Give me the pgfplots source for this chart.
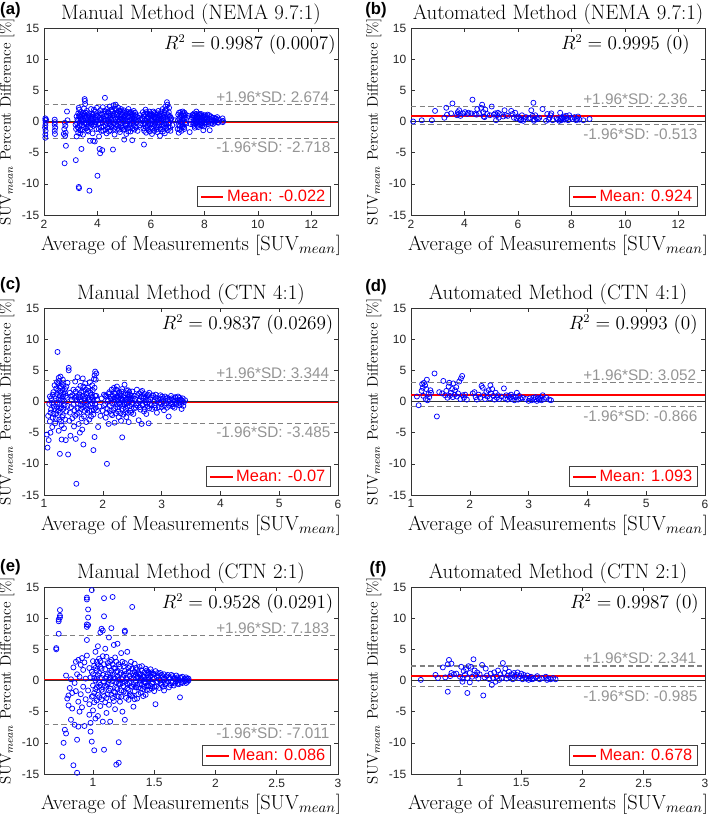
\documentclass[border=0pt]{standalone}
\usepackage{fontspec}
\usepackage{pgfplots}
\usepackage{pgfplotstable}
\pgfplotsset{compat=1.18}
\newfontfamily\arial{Liberation Sans}

\pgfplotstableread{
x y
2.05 0.5
2.05 0.2
2.06 -0.2
2.05 -0.6
2.04 -1.0
2.06 -1.5
2.05 -2.1
2.05 -2.6
2.08 0.3
2.40 0.3
2.41 -0.1
2.40 -0.5
2.42 -1.0
2.40 -1.5
2.41 -2.0
2.78 -0.2
2.80 -0.7
2.76 -1.2
2.81 -1.8
2.79 -2.3
2.82 -3.9
2.77 -6.7
2.86 1.6
2.88 0.2
2.74 -2.0
3.18 -0.5
3.20 -1.2
3.19 -6.2
3.22 -2.4
3.25 0.3
3.26 -0.9
3.28 1.3
3.30 2.2
3.30 -10.5
3.31 -10.7
3.32 1.9
3.33 0.8
3.34 -0.2
3.28 -1.8
3.35 -1.4
3.36 0.5
3.38 1.5
3.40 -4.4
3.42 -0.6
3.44 0.9
3.46 -2.1
3.48 0.1
3.50 2.1
3.52 3.6
3.53 3.3
3.54 2.8
3.52 1.2
3.55 0.6
3.56 -0.3
3.58 -1.1
3.60 1.7
3.62 0.2
3.64 -0.8
3.66 -1.6
3.68 1.0
3.70 -11.1
3.72 -3.1
3.74 0.4
3.76 2.0
3.78 -0.5
3.80 1.3
3.82 -1.9
3.84 -3.1
3.86 0.7
3.88 -0.1
3.90 -3.2
3.92 1.6
3.94 0.3
3.96 -1.2
3.98 2.2
4.00 -8.7
4.02 0.9
4.04 -0.4
4.06 -2.4
4.08 -4.4
4.10 -5.1
4.12 1.2
4.14 -0.9
4.16 0.5
4.18 -4.6
4.20 2.3
4.22 -1.5
4.24 0.1
4.26 1.7
4.28 3.8
4.30 -0.6
4.32 0.8
4.34 -1.9
4.36 2.0
4.38 0.3
4.40 -1.0
4.42 1.4
4.44 -0.2
4.46 2.4
4.48 0.6
4.50 -1.4
4.52 1.9
4.54 -0.7
4.56 0.9
4.58 -4.5
4.60 2.6
4.62 0.2
4.64 -2.1
4.66 1.3
4.68 2.7
4.70 -0.5
4.72 1.1
4.74 -1.2
4.76 0.4
4.78 2.2
4.80 -0.1
4.82 1.6
4.84 -1.7
4.86 0.7
4.88 2.0
4.90 -0.8
4.92 1.0
4.94 0.2
4.96 -1.3
4.98 1.8
5.00 -2.9
5.02 0.5
5.04 1.4
5.06 -0.4
5.08 -2.0
5.10 1.2
5.12 0.1
5.14 -1.1
5.16 2.0
5.18 0.7
5.20 -0.6
5.22 1.5
5.24 -1.6
5.26 0.3
5.28 1.1
5.30 -3.0
5.32 0.9
5.34 -0.2
5.36 1.7
5.38 -1.3
5.40 0.4
5.42 -0.8
5.44 1.0
5.46 -0.1
5.50 -1.5
5.55 0.6
5.60 -0.6
5.65 0.2
5.70 1.5
5.72 -1.1
5.74 -3.7
5.76 0.8
5.78 -0.3
5.80 1.9
5.82 -1.8
5.84 0.5
5.86 -0.7
5.88 1.2
5.90 -1.3
5.92 0.0
5.94 1.6
5.96 -0.5
5.98 0.9
6.00 -1.0
6.02 0.3
6.04 -2.0
6.06 1.1
6.08 -0.4
6.10 0.7
6.12 -1.5
6.14 1.4
6.16 -0.2
6.18 0.5
6.20 -0.9
6.22 1.0
6.24 -1.7
6.26 0.2
6.28 1.7
6.30 -0.6
6.32 0.8
6.34 -2.3
6.36 1.2
6.38 -0.1
6.40 0.4
6.42 -1.2
6.44 2.0
6.46 0.6
6.48 -0.8
6.50 1.5
6.52 -1.9
6.54 2.4
6.56 0.1
6.58 -0.5
6.60 3.1
6.62 2.7
6.63 -1.4
6.64 1.0
6.66 -0.3
6.68 2.2
6.70 0.7
6.72 -1.0
6.74 0.3
6.80 -0.6
6.90 0.2
7.00 -1.2
7.02 1.1
7.04 -1.8
7.06 0.4
7.08 -0.7
7.10 1.5
7.12 0.0
7.14 -1.5
7.16 0.9
7.18 -0.4
7.20 1.3
7.22 0.5
7.24 -0.9
7.26 1.4
7.28 -0.2
7.35 0.6
7.45 -1.7
7.50 0.3
7.55 1.0
7.58 -0.5
7.60 0.2
7.62 1.3
7.64 -1.0
7.66 0.7
7.68 -0.2
7.70 1.6
7.72 0.4
7.74 -0.7
7.76 0.9
7.78 0.1
7.80 1.1
7.82 -0.4
7.84 0.6
7.86 -0.1
7.88 1.2
7.90 0.3
7.92 -0.6
7.94 0.8
7.96 -1.4
7.98 0.5
8.00 -0.2
8.02 1.0
8.04 0.2
8.06 -0.5
8.10 0.7
8.14 0.0
8.18 1.0
8.20 -1.4
8.22 0.4
8.26 -0.3
8.30 0.6
8.34 0.1
8.38 -0.2
8.42 0.5
8.46 0.2
8.50 -0.1
8.55 0.3
8.68 0.5
8.70 0.1
8.69 -0.1
}\dataA

\pgfplotstableread{
x y
3.22 0.8
3.24 -0.3
3.27 0.1
3.29 -1.1
3.31 1.0
3.33 -0.6
3.36 -1.9
3.38 0.2
3.41 1.1
3.43 -1.3
3.45 0.4
3.47 1.3
3.49 -0.9
3.51 -0.2
3.53 0.9
3.57 1.4
3.59 -0.4
3.61 0.8
3.63 -1.4
3.65 0.5
3.67 -0.1
3.69 1.3
3.71 0.0
3.73 -1.0
3.77 0.8
3.79 -0.2
3.81 0.4
3.83 1.1
3.85 -0.7
3.87 1.9
3.91 -0.5
3.93 0.6
3.95 -0.1
3.97 1.0
4.01 0.2
4.03 1.5
4.05 -1.2
4.07 0.6
4.09 -0.3
4.11 1.8
4.13 0.3
4.15 -1.5
4.17 1.1
4.19 -0.2
4.21 0.7
4.23 -0.8
4.25 1.2
4.27 0.4
4.29 -1.3
4.31 1.6
4.33 -0.2
4.35 0.9
4.37 -0.9
4.39 1.5
4.41 0.0
4.43 -1.6
4.45 0.9
4.47 -0.5
4.49 1.2
4.51 0.3
4.53 -0.9
4.55 1.6
4.57 0.5
4.59 -0.3
4.61 1.0
4.63 -1.2
4.65 2.1
4.67 0.4
4.69 -0.9
4.71 1.8
4.73 0.0
4.75 1.4
4.77 -0.7
4.79 0.9
4.81 -1.3
4.83 0.3
4.85 1.7
4.87 -0.4
4.89 1.1
4.91 0.5
4.93 -1.0
4.95 1.5
4.97 0.0
4.99 0.8
5.01 -1.2
5.03 1.0
5.05 0.3
5.07 -0.7
5.09 1.6
5.11 -0.3
5.13 0.7
5.15 -1.6
5.17 1.3
5.19 0.2
5.21 -0.9
5.23 0.8
5.25 -0.3
5.27 1.5
5.29 0.5
5.31 -1.1
5.33 1.2
5.35 0.0
5.37 -0.6
5.39 0.9
5.41 1.4
5.43 0.2
5.45 -1.0
5.48 0.7
5.52 0.1
5.58 1.0
5.63 -0.3
5.68 0.5
5.71 -0.5
5.73 1.1
5.75 -1.5
5.77 0.2
5.79 1.2
5.81 -0.9
5.83 1.5
5.85 0.1
5.87 -1.1
5.89 0.6
5.91 -0.2
5.93 1.1
5.95 -1.6
5.97 0.4
5.99 1.3
6.01 -0.4
6.03 0.9
6.05 -1.1
6.07 0.1
6.09 1.6
6.11 -0.8
6.13 0.5
6.15 -0.5
6.17 1.2
6.19 0.0
6.21 -1.3
6.23 0.6
6.25 1.3
6.27 -0.9
6.29 0.3
6.31 -0.2
6.33 1.0
6.35 -1.2
6.37 0.5
6.39 1.6
6.41 -0.6
6.43 0.9
6.45 -1.6
6.47 0.2
6.49 1.1
6.51 -0.3
6.53 0.6
6.55 1.8
6.57 -1.1
6.59 2.0
6.61 1.2
6.63 0.4
6.65 -0.9
6.67 1.5
6.69 -0.2
6.71 0.9
6.73 -1.5
6.76 0.5
7.01 0.2
7.03 -0.6
7.05 1.4
7.07 -1.3
7.09 0.7
7.11 -0.2
7.13 1.0
7.15 -0.9
7.17 0.3
7.19 1.6
7.21 -0.7
7.23 0.9
7.25 -1.2
7.27 0.6
7.29 1.1
7.32 -0.3
7.40 0.9
7.48 -0.4
7.53 0.7
7.57 1.1
7.59 -0.2
7.61 0.9
7.63 -0.7
7.65 1.0
7.67 0.1
7.69 -0.4
7.71 1.2
7.73 -0.1
7.75 0.5
7.77 -0.9
7.79 0.7
7.81 0.2
7.83 1.2
7.85 -0.6
7.87 0.4
7.89 0.9
7.91 -0.3
7.93 0.6
7.95 0.0
7.97 1.0
7.99 -0.8
8.01 0.3
8.03 0.7
8.05 -0.2
8.08 0.4
8.12 1.1
8.16 -0.4
8.24 0.8
8.28 0.2
8.32 -0.4
8.36 0.6
8.40 0.0
8.44 0.4
8.48 0.7
8.52 -0.2
}\dataAA

\pgfplotstableread{
x y
2.08 0.0
2.40 0.2
2.78 0.2
2.90 1.7
3.25 0.6
3.32 2.2
3.35 1.1
3.50 1.3
3.55 2.9
3.72 1.0
3.75 1.5
3.78 1.2
3.80 1.8
3.85 0.9
3.95 1.3
4.02 1.5
4.10 1.2
4.15 1.4
4.25 1.3
4.30 3.5
4.38 1.2
4.45 1.1
4.48 2.0
4.55 1.3
4.62 2.2
4.66 2.7
4.70 1.5
4.72 0.8
4.75 0.7
4.78 1.9
4.85 1.2
4.95 1.0
5.02 2.4
5.10 1.1
5.15 1.3
5.18 0.2
5.22 1.0
5.25 1.4
5.28 0.6
5.32 1.2
5.45 0.8
5.50 1.8
5.55 1.0
5.62 0.9
5.75 1.7
5.80 1.2
5.85 0.6
5.90 1.4
5.95 0.5
6.00 0.8
6.05 0.6
6.10 0.2
6.12 0.3
6.15 1.0
6.20 0.1
6.22 0.4
6.30 0.7
6.40 0.5
6.45 0.6
6.50 1.8
6.55 0.9
6.58 3.0
6.60 0.1
6.62 0.3
6.65 1.0
6.70 0.5
6.75 0.4
6.80 0.6
6.92 2.0
7.05 0.1
7.10 1.2
7.15 0.3
7.18 0.6
7.22 1.0
7.25 1.3
7.30 0.2
7.45 0.5
7.50 0.3
7.55 0.1
7.58 1.4
7.60 0.5
7.62 0.2
7.65 0.6
7.70 0.4
7.72 0.8
7.75 0.3
7.80 0.9
7.82 0.5
7.88 0.2
7.92 1.0
7.98 0.6
8.05 0.4
8.12 0.7
8.18 0.2
8.22 0.4
8.25 0.8
8.30 0.3
8.45 0.2
8.68 0.4
}\dataB

\pgfplotstableread{
x y
1.05 -5.3
1.06 -7.4
1.07 -2.3
1.08 -6.2
1.09 -0.4
1.10 0.8
1.10 -3.2
1.11 -5.0
1.12 -1.3
1.13 0.2
1.14 -4.1
1.15 -2.6
1.16 1.5
1.17 -0.8
1.18 2.6
1.19 -3.5
1.20 0.5
1.21 -1.9
1.22 3.1
1.23 7.95
1.23 -0.2
1.24 1.8
1.25 -4.7
1.25 3.8
1.26 -2.9
1.27 -8.4
1.27 0.9
1.28 4.0
1.28 -1.1
1.29 2.4
1.30 -6.1
1.30 -3.8
1.31 0.1
1.32 3.5
1.32 -2.2
1.33 1.2
1.34 -4.3
1.35 -0.6
1.36 2.0
1.37 -6.2
1.38 -1.6
1.39 0.6
1.40 3.0
1.41 -8.5
1.42 5.4
1.42 5.0
1.43 -3.1
1.44 1.4
1.45 -5.5
1.46 -0.9
1.47 0.3
1.48 -2.7
1.50 1.9
1.51 -4.0
1.52 -1.4
1.53 3.2
1.54 -6.0
1.55 -13.2
1.55 0.8
1.56 -2.0
1.57 3.9
1.58 -0.3
1.59 -3.6
1.60 1.1
1.61 -5.0
1.62 2.5
1.63 -1.2
1.64 0.0
1.65 -4.5
1.66 3.7
1.67 -6.9
1.67 1.6
1.68 -2.4
1.69 0.4
1.70 2.9
1.71 -0.7
1.72 -3.3
1.73 1.3
1.74 -1.8
1.75 2.2
1.76 0.2
1.77 -2.9
1.78 3.1
1.79 -0.5
1.80 1.0
1.81 -1.5
1.82 2.6
1.83 0.6
1.84 -7.8
1.84 -2.1
1.85 3.6
1.86 -5.7
1.86 4.2
1.87 4.8
1.87 0.9
1.88 -1.0
1.89 4.5
1.90 0.3
1.92 -4.1
1.94 -0.8
1.96 -2.3
1.98 0.5
2.00 -1.5
2.02 1.1
2.04 -0.4
2.05 -2.6
2.06 0.8
2.07 -10.0
2.08 -1.2
2.09 0.1
2.10 -3.6
2.11 1.5
2.12 -0.7
2.13 0.5
2.14 -2.0
2.15 1.9
2.16 -0.3
2.17 0.9
2.18 -1.4
2.19 2.2
2.20 -3.4
2.20 -0.1
2.21 1.2
2.22 -1.9
2.23 0.6
2.24 2.4
2.25 -0.9
2.26 0.3
2.27 -2.5
2.28 1.5
2.29 -0.5
2.30 1.0
2.31 -3.1
2.32 0.2
2.33 -5.75
2.33 2.0
2.34 -1.2
2.35 0.7
2.36 -0.2
2.37 2.7
2.38 -1.7
2.39 1.3
2.40 -2.5
2.41 0.4
2.42 -0.8
2.43 1.8
2.44 -3.3
2.45 0.0
2.46 1.1
2.47 -1.5
2.48 0.6
2.49 -0.4
2.50 1.6
2.52 -2.0
2.54 0.9
2.56 -1.0
2.58 1.9
2.60 -0.3
2.61 -3.0
2.62 1.3
2.63 0.2
2.64 -1.3
2.65 0.8
2.66 -3.6
2.67 1.7
2.68 -0.6
2.69 0.5
2.70 -1.6
2.71 1.2
2.72 -0.1
2.73 0.7
2.74 -2.0
2.75 1.0
2.76 -0.8
2.77 0.3
2.78 -3.5
2.79 1.4
2.80 -0.4
2.82 0.6
2.84 -1.2
2.86 0.9
2.88 -0.6
2.90 1.1
2.92 -1.8
2.94 0.4
2.96 -0.2
2.98 1.0
3.00 -0.9
3.02 0.5
3.04 -1.4
3.06 0.8
3.08 -0.3
3.10 0.6
3.12 -2.4
3.13 -0.7
3.14 0.3
3.16 0.9
3.18 -0.5
3.20 0.4
3.22 -1.0
3.24 0.6
3.26 -0.2
3.28 0.8
3.30 -0.6
3.32 0.3
3.34 -1.2
3.36 0.5
3.38 -0.1
3.40 0.2
}\dataC

\pgfplotstableread{
x y
1.11 -1.8
1.12 0.5
1.14 -0.3
1.15 1.1
1.16 -2.0
1.18 -1.2
1.19 0.9
1.20 -2.8
1.21 2.1
1.22 -0.9
1.22 1.2
1.24 -1.5
1.24 2.9
1.25 0.3
1.26 -0.5
1.26 3.3
1.27 2.2
1.27 -1.8
1.28 1.4
1.29 -3.2
1.29 0.4
1.30 2.8
1.30 -0.9
1.31 1.8
1.31 -2.5
1.32 0.8
1.33 -1.2
1.33 2.6
1.34 0.1
1.35 1.5
1.36 -2.9
1.37 0.9
1.38 2.4
1.40 -0.7
1.44 -1.8
1.46 0.8
1.48 1.0
1.50 -0.5
1.52 0.6
1.53 -2.3
1.54 1.6
1.56 0.3
1.57 -1.1
1.58 2.0
1.59 0.7
1.60 -1.8
1.61 0.2
1.62 -0.6
1.63 1.5
1.64 -2.7
1.65 0.9
1.66 -0.9
1.67 2.4
1.68 0.5
1.69 -1.5
1.70 0.8
1.71 1.9
1.72 -0.2
1.73 -1.2
1.74 0.6
1.75 -0.6
1.76 1.7
1.77 -1.5
1.78 0.4
1.79 1.4
1.80 -2.4
1.81 0.7
1.82 -0.3
1.83 1.8
1.84 0.1
1.85 -1.3
1.86 2.2
1.87 -0.4
1.88 3.5
1.89 0.9
1.90 -1.4
2.02 -0.6
2.04 0.9
2.06 -1.8
2.08 0.3
2.10 1.2
2.12 -1.5
2.14 0.8
2.16 -2.2
2.18 0.4
2.20 1.4
2.21 -1.1
2.22 0.2
2.23 1.9
2.24 -0.5
2.25 0.9
2.26 -1.6
2.27 0.6
2.28 -0.3
2.29 1.2
2.30 -1.9
2.31 0.5
2.32 1.6
2.33 -0.7
2.34 0.3
2.35 -2.1
2.36 1.0
2.37 -0.5
2.38 0.6
2.39 -1.2
2.40 1.8
2.41 -0.3
2.42 1.1
2.43 -1.8
2.44 0.5
2.45 1.5
2.46 -0.7
2.47 0.3
2.48 -1.8
2.49 0.9
2.50 -0.2
2.51 0.5
2.53 -1.1
2.55 0.4
2.57 -0.6
2.59 1.0
2.61 0.1
2.63 -0.9
2.65 1.5
2.67 -0.5
2.69 0.8
2.71 -1.2
2.73 0.2
2.75 -0.3
2.77 1.1
2.79 -1.1
2.81 0.3
2.83 -0.6
2.85 1.0
2.87 0.0
2.89 -1.0
2.91 0.6
2.93 0.1
2.95 -0.9
2.97 0.5
2.99 -0.4
3.01 0.8
3.03 0.0
3.05 -0.6
3.07 0.4
3.09 -1.0
3.11 0.2
3.15 -0.3
3.17 0.5
3.19 -0.8
3.21 0.1
3.23 0.7
3.25 -0.5
3.27 0.2
3.29 -0.2
3.31 0.6
3.33 -0.4
3.35 0.1
3.37 -0.7
}\dataCC

\pgfplotstableread{
x y
1.10 0.8
1.13 -0.6
1.18 1.7
1.19 2.8
1.20 2.2
1.21 0.9
1.22 3.0
1.24 2.6
1.25 0.4
1.26 2.0
1.27 3.5
1.28 0.2
1.30 1.2
1.31 0.7
1.33 1.8
1.34 1.4
1.40 4.5
1.44 -2.4
1.48 1.5
1.53 1.3
1.55 3.3
1.58 1.0
1.60 1.7
1.62 0.6
1.64 2.4
1.65 3.0
1.66 0.9
1.68 1.4
1.70 2.0
1.71 0.7
1.72 2.9
1.74 1.1
1.75 1.8
1.77 2.3
1.78 0.8
1.80 1.3
1.82 3.2
1.84 0.4
1.85 3.7
1.87 4.1
1.88 1.0
1.90 0.6
1.92 1.1
1.95 0.3
2.05 1.3
2.08 1.5
2.10 0.7
2.12 0.3
2.15 1.1
2.18 0.6
2.20 2.5
2.22 2.2
2.24 1.0
2.26 0.4
2.28 1.5
2.30 0.8
2.32 1.8
2.34 0.5
2.35 2.6
2.36 1.3
2.38 2.0
2.40 0.9
2.42 0.3
2.44 1.4
2.46 0.6
2.48 1.0
2.50 0.4
2.54 0.8
2.58 2.1
2.60 0.5
2.62 1.0
2.64 0.3
2.66 0.9
2.68 0.6
2.70 1.1
2.72 0.4
2.74 0.8
2.76 0.2
2.78 0.7
2.80 1.4
2.82 0.3
2.84 0.9
2.86 0.5
2.90 0.6
2.95 0.4
3.00 0.1
3.02 0.5
3.05 0.2
3.08 0.6
3.10 0.3
3.12 0.7
3.14 0.1
3.16 0.5
3.18 0.3
3.20 0.6
3.22 0.2
3.24 1.0
3.26 0.4
3.30 0.6
3.35 0.3
3.38 0.2
}\dataD

\pgfplotstableread{
x y
0.70 5.2
0.70 5.0
0.72 7.5
0.72 9.5
0.72 9.8
0.73 10.1
0.73 10.4
0.73 11.3
0.75 -12.2
0.76 -10.0
0.77 -7.9
0.78 -8.5
0.78 0.8
0.79 -2.9
0.80 -4.0
0.80 -2.4
0.81 -1.2
0.82 -6.3
0.82 0.2
0.83 -4.5
0.83 -2.0
0.84 -13.6
0.84 2.1
0.85 -7.1
0.85 -0.4
0.86 3.0
0.86 -1.7
0.87 -14.8
0.87 -9.5
0.87 1.0
0.88 -7.4
0.88 3.3
0.88 -3.4
0.89 -5.0
0.89 0.6
0.90 2.5
0.90 -2.2
0.91 -4.3
0.91 3.6
0.92 -1.0
0.92 1.7
0.93 -7.3
0.93 2.9
0.94 -3.0
0.94 0.3
0.95 13.0
0.95 13.3
0.95 8.6
0.95 9.0
0.95 6.5
0.95 4.0
0.96 11.4
0.96 10.1
0.96 -1.6
0.96 8.9
0.97 -5.5
0.97 2.0
0.97 -3.8
0.98 -8.2
0.98 0.5
0.98 -6.8
0.99 14.5
0.99 -9.8
0.99 1.4
0.99 -2.6
1.00 3.1
1.00 -4.8
1.00 -0.8
1.01 -11.2
1.01 2.4
1.01 -2.0
1.02 0.0
1.02 -6.1
1.02 4.6
1.03 -3.2
1.03 1.6
1.03 -1.1
1.04 5.5
1.04 -5.7
1.04 0.8
1.05 -2.7
1.05 3.5
1.05 -0.4
1.06 7.7
1.06 -4.1
1.06 2.2
1.07 8.3
1.07 -1.5
1.07 0.4
1.08 8.0
1.08 -6.6
1.08 3.9
1.09 13.2
1.09 10.3
1.09 -11.1
1.09 -0.2
1.10 1.8
1.10 -3.5
1.10 5.1
1.11 -1.0
1.11 0.6
1.11 -5.2
1.12 2.8
1.12 -2.2
1.13 6.9
1.13 0.1
1.13 -3.9
1.14 -6.6
1.14 1.2
1.14 -1.3
1.15 8.4
1.15 3.3
1.15 -0.6
1.16 13.4
1.16 -2.8
1.16 0.9
1.17 5.7
1.17 -1.8
1.17 2.0
1.18 -4.6
1.18 0.3
1.18 3.7
1.19 -13.5
1.19 -1.2
1.19 1.4
1.20 5.9
1.20 -2.5
1.20 0.6
1.21 -13.2
1.21 -9.9
1.21 2.6
1.21 -0.5
1.22 -3.4
1.22 1.0
1.23 4.4
1.23 -1.6
1.24 0.2
1.24 -5.0
1.25 2.3
1.25 -0.9
1.26 8.0
1.26 7.8
1.26 -6.3
1.26 1.5
1.27 -2.0
1.27 0.4
1.28 4.6
1.28 -1.2
1.29 2.0
1.29 -3.1
1.30 0.7
1.30 -0.4
1.31 3.0
1.31 -2.4
1.32 11.8
1.32 1.2
1.32 -1.0
1.33 -4.2
1.33 0.3
1.34 2.7
1.34 -1.7
1.35 0.9
1.35 -0.2
1.36 1.8
1.36 -2.9
1.37 0.5
1.37 -1.1
1.38 2.2
1.38 -0.6
1.39 1.0
1.39 -2.0
1.40 0.2
1.40 1.6
1.41 -1.4
1.42 0.6
1.42 -0.3
1.43 1.9
1.43 -2.3
1.44 0.9
1.44 -0.8
1.45 1.4
1.45 0.1
1.46 -1.5
1.47 0.7
1.47 1.8
1.48 -0.5
1.49 1.1
1.50 -1.0
1.50 0.4
1.51 -3.8
1.51 1.5
1.52 -0.3
1.53 0.8
1.54 -1.2
1.55 1.2
1.55 0.0
1.56 -0.7
1.57 0.5
1.58 1.0
1.58 -1.6
1.59 0.2
1.60 -0.4
1.61 0.9
1.62 -1.1
1.63 0.4
1.64 -0.2
1.65 0.7
1.66 -0.8
1.67 0.3
1.68 0.8
1.69 -0.5
1.70 0.1
1.71 -2.7
1.71 0.5
1.72 -0.3
1.73 0.6
1.74 -0.1
1.75 0.3
1.76 -0.4
1.77 0.2
1.78 0.0
}\dataE

\pgfplotstableread{
x y
1.00 1.0
1.00 -2.5
1.01 0.4
1.01 -3.5
1.02 2.0
1.02 -1.4
1.03 3.0
1.03 0.3
1.04 -2.3
1.04 2.6
1.05 -1.0
1.05 1.2
1.06 -0.7
1.06 3.1
1.07 -3.0
1.07 1.9
1.08 -1.8
1.08 0.9
1.09 2.6
1.09 -2.5
1.10 -0.8
1.10 0.3
1.11 3.8
1.11 -2.8
1.12 -0.6
1.12 1.0
1.13 2.3
1.13 -1.6
1.14 0.5
1.14 3.0
1.15 -2.3
1.15 1.6
1.16 -0.1
1.16 2.6
1.17 -3.3
1.17 0.5
1.18 1.9
1.18 -1.9
1.19 -0.3
1.19 3.0
1.20 1.5
1.20 -1.4
1.21 -2.6
1.21 0.1
1.22 2.2
1.22 -0.6
1.23 1.2
1.23 -2.6
1.24 3.0
1.24 -0.4
1.25 0.9
1.25 -1.8
1.26 -0.2
1.26 2.8
1.27 1.1
1.27 -2.8
1.28 0.2
1.28 -0.6
1.29 1.4
1.29 -1.5
1.30 2.3
1.30 -2.2
1.31 0.3
1.31 -0.9
1.32 1.9
1.32 -2.5
1.33 0.8
1.33 -0.6
1.34 1.4
1.34 -3.0
1.35 -1.1
1.35 2.0
1.36 0.5
1.36 -0.7
1.37 1.3
1.37 -2.2
1.38 0.0
1.38 1.0
1.39 -1.3
1.39 0.4
1.40 -0.7
1.40 2.3
1.41 0.7
1.41 -2.5
1.42 1.3
1.42 -1.0
1.43 0.2
1.43 -0.4
1.44 1.6
1.44 -1.5
1.45 0.5
1.45 -0.9
1.46 1.1
1.46 0.2
1.47 -0.9
1.48 1.3
1.48 -1.3
1.49 0.2
1.49 -0.3
1.50 1.0
1.50 -1.7
1.52 0.6
1.52 -0.9
1.53 1.2
1.54 0.2
1.55 -0.5
1.56 0.9
1.57 -1.0
1.58 0.3
1.59 -0.6
1.60 0.7
1.61 -0.2
1.62 0.5
1.63 -0.7
1.64 0.9
1.65 -0.3
1.66 0.4
1.67 -0.5
1.68 0.1
1.69 0.5
1.70 -0.6
1.72 0.4
1.73 -0.4
1.75 -0.1
1.76 0.5
1.77 -0.2
1.78 0.3
}\dataEE

\pgfplotstableread{
x y
0.68 0.1
0.80 0.9
0.82 0.4
0.86 2.1
0.88 0.5
0.90 -1.8
0.90 2.6
0.91 3.3
0.92 0.7
0.93 2.7
0.93 1.2
0.95 1.0
0.97 1.1
1.00 0.6
1.01 2.2
1.02 -0.2
1.02 0.3
1.03 1.5
1.04 0.9
1.05 1.8
1.06 -2.0
1.06 0.4
1.07 2.3
1.08 1.2
1.08 -0.3
1.09 2.2
1.10 0.6
1.11 3.4
1.12 1.6
1.13 0.8
1.14 1.3
1.15 0.3
1.16 1.0
1.18 2.5
1.19 -2.4
1.20 0.5
1.21 1.9
1.22 0.8
1.24 0.2
1.25 1.1
1.26 -0.7
1.27 0.4
1.28 1.3
1.29 -0.2
1.30 0.6
1.31 1.6
1.32 0.1
1.33 1.0
1.34 0.4
1.35 2.8
1.36 1.2
1.37 1.9
1.38 0.3
1.39 0.8
1.40 1.4
1.41 0.5
1.42 1.0
1.43 0.2
1.44 1.2
1.45 0.6
1.46 0.9
1.47 1.3
1.48 0.4
1.49 0.7
1.50 1.1
1.51 0.2
1.52 0.9
1.53 0.5
1.54 0.3
1.55 0.8
1.56 0.1
1.57 0.4
1.58 0.6
1.59 0.2
1.60 0.3
1.62 0.5
1.63 0.7
1.65 0.2
1.67 0.4
1.70 0.6
1.71 0.1
1.72 0.3
1.74 0.2
1.76 0.4
1.78 0.2
}\dataF

\tikzset{
  sdt/.style={font=\arial\fontsize{11.5}{13}\selectfont, text=black!42, inner sep=0pt},
  rsq/.style={font=\fontsize{13.5}{16}\selectfont, anchor=east, inner sep=0pt},
  plab/.style={font=\arial\bfseries\fontsize{12.5}{14}\selectfont},
}

\pgfplotsset{
  ba/.style={
    scale only axis, width=220.5pt, height=140.25pt,
    ymin=-15, ymax=15, ytick={-15,-10,-5,0,5,10,15},
    tick align=inside, major tick length=3pt,
    axis line style={black!80, line width=0.5pt},
    tick style={black!80, line width=0.4pt},
    tick label style={font=\arial\fontsize{9}{10}\selectfont, text=black!85},
    /pgf/number format/assume math mode=true,
    xlabel={Average of Measurements [SUV$_{mean}$]},
    ylabel={SUV$_{mean}$ Percent Difference [\%]},
    xlabel style={font=\fontsize{15.3}{18}\selectfont, at={(axis description cs:0.5,-0.165)}, anchor=center},
    ylabel style={font=\fontsize{11.3}{13}\selectfont, at={(axis description cs:-0.126,0.5)}, anchor=center},
    title style={font=\fontsize{15.6}{18}\selectfont, at={(axis description cs:0.5,1.075)}, anchor=center, yshift=-6pt},
    legend style={at={(axis description cs:0.976,0.043)}, anchor=south east,
      draw=black!75, line width=0.5pt, fill=white,
      font=\arial\fontsize{12.3}{14}\selectfont, text=red,
      inner xsep=2pt, inner ysep=0.5pt},
    legend cell align=left,
  },
  pts/.style={only marks, mark=o, mark size=1.9pt, blue, mark options={line width=0.55pt}, forget plot},
  sdl/.style={black!50, dash pattern=on 4pt off 2.5pt, line width=0.9pt, forget plot},
  zl/.style={black!80, line width=0.4pt, forget plot},
  ml/.style={red, line width=1.5pt, legend image code/.code={\draw[red, line width=1.5pt] (0pt,0pt) -- (17pt,0pt);}},
}

\begin{document}
\begin{tikzpicture}
\useasboundingbox (0,0) rectangle (531.75pt,610.5pt);

% (a)
\begin{axis}[ba, at={(33pt,449.25pt)}, anchor=south west,
  xmin=2, xmax=13, xtick={2,4,6,8,10,12},
  title={Manual Method (NEMA 9.7:1)}]
\addplot[pts] table {\dataA};
\addplot[pts] table {\dataAA};
\addplot[ml] coordinates {(2,-0.022) (13,-0.022)};
\addlegendentry{Mean: -0.022\hspace{12pt}}
\addplot[zl] coordinates {(2,0) (13,0)};
\addplot[sdl] coordinates {(2,2.674) (13,2.674)};
\addplot[sdl] coordinates {(2,-2.718) (13,-2.718)};
\node[sdt, anchor=south west, yshift=1.5pt] at ({rel axis cs:0.585,0}|-{axis cs:2,2.674}) {+1.96*SD: 2.674};
\node[sdt, anchor=north west, yshift=-2.6pt] at ({rel axis cs:0.585,0}|-{axis cs:2,-2.718}) {-1.96*SD: -2.718};
\node[rsq] at (rel axis cs:0.993,0.91) {$R^2 = 0.9987\ (0.0007)$};
\end{axis}

% (b)
\begin{axis}[ba, at={(308.25pt,449.25pt)}, anchor=south west,
  xmin=2, xmax=13, xtick={2,4,6,8,10,12},
  title={Automated Method (NEMA 9.7:1)}]
\addplot[pts] table {\dataB};
\addplot[ml] coordinates {(2,0.924) (13,0.924)};
\addlegendentry{Mean: 0.924\hspace{12pt}}
\addplot[zl] coordinates {(2,0) (13,0)};
\addplot[sdl] coordinates {(2,2.36) (13,2.36)};
\addplot[sdl] coordinates {(2,-0.513) (13,-0.513)};
\node[sdt, anchor=south west, yshift=1.5pt] at ({rel axis cs:0.585,0}|-{axis cs:2,2.36}) {+1.96*SD: 2.36};
\node[sdt, anchor=north west, yshift=-2.6pt] at ({rel axis cs:0.585,0}|-{axis cs:2,-0.513}) {-1.96*SD: -0.513};
\node[rsq] at (rel axis cs:0.949,0.91) {$R^2 = 0.9995\ (0)$};
\end{axis}

% (c)
\begin{axis}[ba, at={(33pt,239.25pt)}, anchor=south west,
  xmin=1, xmax=6, xtick={1,2,3,4,5,6},
  title={Manual Method (CTN 4:1)}]
\addplot[pts] table {\dataC};
\addplot[pts] table {\dataCC};
\addplot[ml] coordinates {(1,-0.07) (6,-0.07)};
\addlegendentry{Mean: -0.07\hspace{12pt}}
\addplot[zl] coordinates {(1,0) (6,0)};
\addplot[sdl] coordinates {(1,3.344) (6,3.344)};
\addplot[sdl] coordinates {(1,-3.485) (6,-3.485)};
\node[sdt, anchor=south west, yshift=1.5pt] at ({rel axis cs:0.585,0}|-{axis cs:1,3.344}) {+1.96*SD: 3.344};
\node[sdt, anchor=north west, yshift=-2.6pt] at ({rel axis cs:0.585,0}|-{axis cs:1,-3.485}) {-1.96*SD: -3.485};
\node[rsq] at (rel axis cs:0.985,0.91) {$R^2 = 0.9837\ (0.0269)$};
\end{axis}

% (d)
\begin{axis}[ba, at={(308.25pt,239.25pt)}, anchor=south west,
  xmin=1, xmax=6, xtick={1,2,3,4,5,6},
  title={Automated Method (CTN 4:1)}]
\addplot[pts] table {\dataD};
\addplot[ml] coordinates {(1,1.093) (6,1.093)};
\addlegendentry{Mean: 1.093\hspace{12pt}}
\addplot[zl] coordinates {(1,0) (6,0)};
\addplot[sdl] coordinates {(1,3.052) (6,3.052)};
\addplot[sdl] coordinates {(1,-0.866) (6,-0.866)};
\node[sdt, anchor=south west, yshift=1.5pt] at ({rel axis cs:0.585,0}|-{axis cs:1,3.052}) {+1.96*SD: 3.052};
\node[sdt, anchor=north west, yshift=-2.6pt] at ({rel axis cs:0.585,0}|-{axis cs:1,-0.866}) {-1.96*SD: -0.866};
\node[rsq] at (rel axis cs:0.976,0.91) {$R^2 = 0.9993\ (0)$};
\end{axis}

% (e)
\begin{axis}[ba, at={(33pt,30pt)}, anchor=south west,
  xmin=0.6, xmax=3, xtick={1,1.5,2,2.5,3},
  title={Manual Method (CTN 2:1)}]
\addplot[pts] table {\dataE};
\addplot[pts] table {\dataEE};
\addplot[ml] coordinates {(0.6,0.086) (3,0.086)};
\addlegendentry{Mean: 0.086\hspace{12pt}}
\addplot[zl] coordinates {(0.6,0) (3,0)};
\addplot[sdl] coordinates {(0.6,7.183) (3,7.183)};
\addplot[sdl] coordinates {(0.6,-7.011) (3,-7.011)};
\node[sdt, anchor=south west, yshift=1.5pt] at ({rel axis cs:0.585,0}|-{axis cs:1,7.183}) {+1.96*SD: 7.183};
\node[sdt, anchor=north west, yshift=-2.6pt] at ({rel axis cs:0.585,0}|-{axis cs:1,-7.011}) {-1.96*SD: -7.011};
\node[rsq] at (rel axis cs:0.985,0.91) {$R^2 = 0.9528\ (0.0291)$};
\end{axis}

% (f)
\begin{axis}[ba, at={(308.25pt,30pt)}, anchor=south west,
  xmin=0.6, xmax=3, xtick={1,1.5,2,2.5,3},
  title={Automated Method (CTN 2:1)}]
\addplot[pts] table {\dataF};
\addplot[ml] coordinates {(0.6,0.678) (3,0.678)};
\addlegendentry{Mean: 0.678\hspace{12pt}}
\addplot[zl] coordinates {(0.6,0) (3,0)};
\addplot[sdl] coordinates {(0.6,2.341) (3,2.341)};
\addplot[sdl] coordinates {(0.6,-0.985) (3,-0.985)};
\node[sdt, anchor=south west, yshift=1.5pt] at ({rel axis cs:0.585,0}|-{axis cs:1,2.341}) {+1.96*SD: 2.341};
\node[sdt, anchor=north west, yshift=-2.6pt] at ({rel axis cs:0.585,0}|-{axis cs:1,-0.985}) {-1.96*SD: -0.985};
\node[rsq] at (rel axis cs:0.98,0.91) {$R^2 = 0.9987\ (0)$};
\end{axis}

\node[plab] at (7.8pt,603pt) {(a)};
\node[plab] at (282pt,603pt) {(b)};
\node[plab] at (7.8pt,396.75pt) {(c)};
\node[plab] at (282pt,395.25pt) {(d)};
\node[plab] at (7.8pt,185.25pt) {(e)};
\node[plab] at (283.5pt,183.75pt) {(f)};
\end{tikzpicture}
\end{document}
